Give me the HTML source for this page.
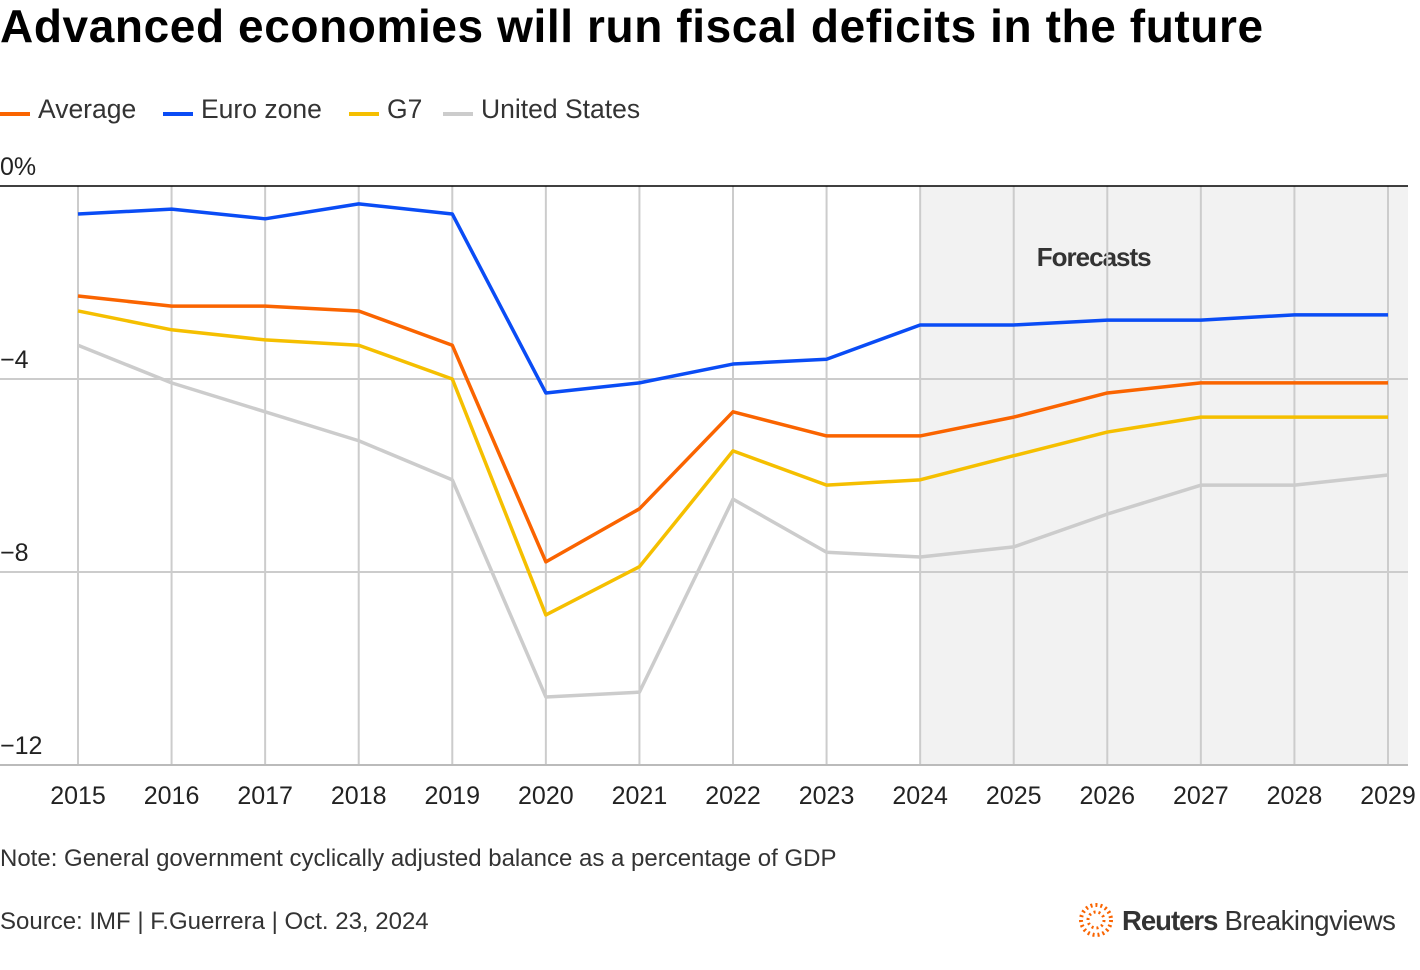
<!DOCTYPE html>
<html><head><meta charset="utf-8"><style>
body{margin:0;background:#fff;font-family:"Liberation Sans",Arial,sans-serif;}
svg{display:block}
</style></head><body>
<svg id="chart" width="1420" height="970" xmlns="http://www.w3.org/2000/svg">
<text x="0" y="42" font-size="46" font-weight="bold" fill="#000" letter-spacing="0.6">Advanced economies will run fiscal deficits in the future</text>
<g id="legend" font-size="26.5" fill="#333"></g>
<g id="plot"></g>
<text x="0" y="866" font-size="24" fill="#333">Note: General government cyclically adjusted balance as a percentage of GDP</text>
<text x="0" y="929" font-size="24" fill="#333">Source: IMF | F.Guerrera | Oct. 23, 2024</text>
<g>
<circle cx="1096" cy="920" r="15" fill="none" stroke="#fa6400" stroke-width="4" stroke-dasharray="2 3"/>
<circle cx="1096" cy="920" r="8" fill="none" stroke="#fa6400" stroke-width="3" stroke-dasharray="2 3"/>
<text x="1122" y="930" font-size="27.5" fill="#333"><tspan font-weight="bold" letter-spacing="-1">Reuters</tspan><tspan letter-spacing="-0.5"> Breakingviews</tspan></text>
</g>
</svg>
<script>
const years=[2015,2016,2017,2018,2019,2020,2021,2022,2023,2024,2025,2026,2027,2028,2029];
const average=[-2.28,-2.49,-2.49,-2.59,-3.3,-7.79,-6.69,-4.68,-5.18,-5.18,-4.79,-4.29,-4.08,-4.08,-4.08];
const euroZone=[-0.58,-0.48,-0.68,-0.37,-0.58,-4.29,-4.08,-3.69,-3.59,-2.88,-2.88,-2.78,-2.78,-2.67,-2.67];
const g7=[-2.59,-2.98,-3.19,-3.3,-4.0,-8.89,-7.89,-5.49,-6.2,-6.09,-5.59,-5.1,-4.79,-4.79,-4.79];
const unitedStates=[-3.3,-4.08,-4.68,-5.28,-6.09,-10.59,-10.49,-6.49,-7.59,-7.69,-7.48,-6.8,-6.2,-6.2,-5.99];
const yTicks=[0,-4,-8,-12];
const yTickLabels=["0%","−4","−8","−12"];
const forecastStart=2024;
const NS="http://www.w3.org/2000/svg";
const X=y=>78+(y-2015)*(1388-78)/14;
const Y=v=>186+(-v)*(765-186)/12;
const plot=document.getElementById('plot');
function mk(t,a,p){const e=document.createElementNS(NS,t);for(const k in a)e.setAttribute(k,a[k]);(p||plot).appendChild(e);return e;}
const sh=mk('rect',{x:X(forecastStart),y:Y(0),width:1408-X(forecastStart),height:Y(-12)-Y(0),fill:'#f2f2f2'});


const ft=mk('text',{x:X(2025)+80,y:266,'font-size':26,'font-weight':'bold',fill:'#333','text-anchor':'middle','letter-spacing':'-1'});ft.textContent='Forecasts';


years.forEach(y=>{
 const l=mk('line',{x1:X(y),x2:X(y),y1:Y(0),y2:Y(-12),stroke:'#ccc','stroke-width':2});
 
 
 const t=mk('text',{x:X(y),y:804,'font-size':25,fill:'#222','text-anchor':'middle'});t.textContent=y;
 
 
});
yTicks.forEach((v,i)=>{
 const l=mk('line',{x1:0,x2:1408,y1:Y(v),y2:Y(v),stroke:v===0?'#000':'#ccc','stroke-width':v===0?1.5:2});
 
 
 const t=mk('text',{x:0,y:Y(v)-11,'font-size':25,fill:'#222'});t.textContent=yTickLabels[i];
 
 
});
const bl=mk('line',{x1:0,x2:1408,y1:Y(-12),y2:Y(-12),stroke:'#bbb','stroke-width':2});


const series=[["United States",unitedStates,"#cccccc","line-united-states"],["G7",g7,"#f5bf00","line-g7"],["Average",average,"#fa6400","line-average"],["Euro zone",euroZone,"#0a4cf5","line-euro-zone"]];
series.forEach(s=>{
 const p=mk('polyline',{points:s[1].map((v,i)=>X(years[i])+','+Y(v)).join(' '),fill:'none',stroke:s[2],'stroke-width':3.5,'stroke-linejoin':'round'});
 
 
});
const lg=document.getElementById('legend');
const leg=[["Average","#fa6400",0],["Euro zone","#0a4cf5",163],["G7","#f5bf00",349],["United States","#cccccc",443]];
leg.forEach(e=>{
 const g=mk('g',{},lg);
 
 
 mk('line',{x1:e[2],x2:e[2]+30,y1:114,y2:114,stroke:e[1],'stroke-width':4},g);
 const t=mk('text',{x:e[2]+38,y:118},g);t.textContent=e[0];
});
</script>
</body></html>
